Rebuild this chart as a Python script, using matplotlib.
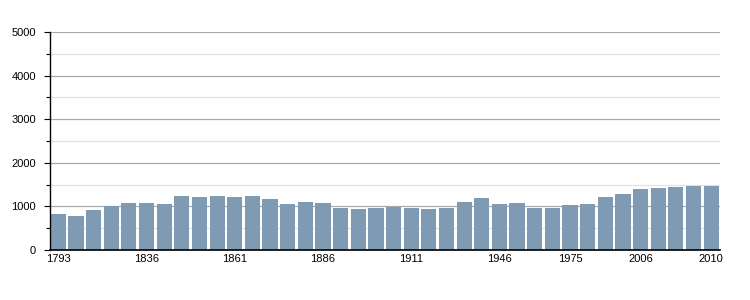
import matplotlib
matplotlib.use("Agg")
from matplotlib import pyplot as plt
from matplotlib.ticker import MultipleLocator
import numpy as np

years = [1793, 1800, 1806, 1821, 1831, 1836, 1841, 1846, 1851, 1856,
         1861, 1866, 1872, 1876, 1881, 1886, 1891, 1896, 1901, 1906,
         1911, 1921, 1926, 1931, 1936, 1946, 1954, 1962, 1968, 1975,
         1982, 1990, 1999, 2006, 2007, 2008, 2009, 2010]
population = [832, 779, 916, 1008, 1076, 1076, 1053, 1237, 1214, 1237,
              1214, 1237, 1168, 1053, 1099, 1076, 962, 939, 962, 985,
              962, 939, 962, 1099, 1191, 1053, 1076, 962, 962, 1031,
              1053, 1214, 1282, 1397, 1420, 1443, 1466, 1466]
labelled_years = [1793, 1836, 1861, 1886, 1911, 1946, 1975, 2006, 2010]

plt.rcParams['font.family'] = ['Liberation Sans', 'DejaVu Sans']

fig = plt.figure(figsize=(7.5, 3), dpi=100)
ax = fig.add_axes([50 / 750, 50 / 300, 670 / 750, 218 / 300])

x = np.arange(len(years))
ax.bar(x, population, width=0.86, color='#7f9ab3', zorder=3)

ax.set_xlim(-0.47, len(years) - 0.5)
ax.set_ylim(0, 5000)

ax.yaxis.set_major_locator(MultipleLocator(1000))
ax.yaxis.set_minor_locator(MultipleLocator(500))
ax.grid(which='major', axis='y', color='#aaaaaa', linewidth=0.9, zorder=1)
ax.grid(which='minor', axis='y', color='#e2e2e2', linewidth=0.9, zorder=1)

ticks = [years.index(y) for y in labelled_years]
ax.set_xticks(ticks)
ax.set_xticklabels([str(y) for y in labelled_years])
ax.tick_params(axis='x', length=0, pad=3, labelsize=8)
ax.tick_params(axis='y', which='major', length=4, width=0.8, pad=6, labelsize=8)
ax.tick_params(axis='y', which='minor', length=3, width=0.8)

for side in ['top', 'right']:
    ax.spines[side].set_visible(False)
ax.spines['left'].set_linewidth(1)
ax.spines['bottom'].set_linewidth(1.2)
ax.spines['left'].set_zorder(4)
ax.spines['bottom'].set_zorder(4)

fig.savefig('out.png', dpi=100)
